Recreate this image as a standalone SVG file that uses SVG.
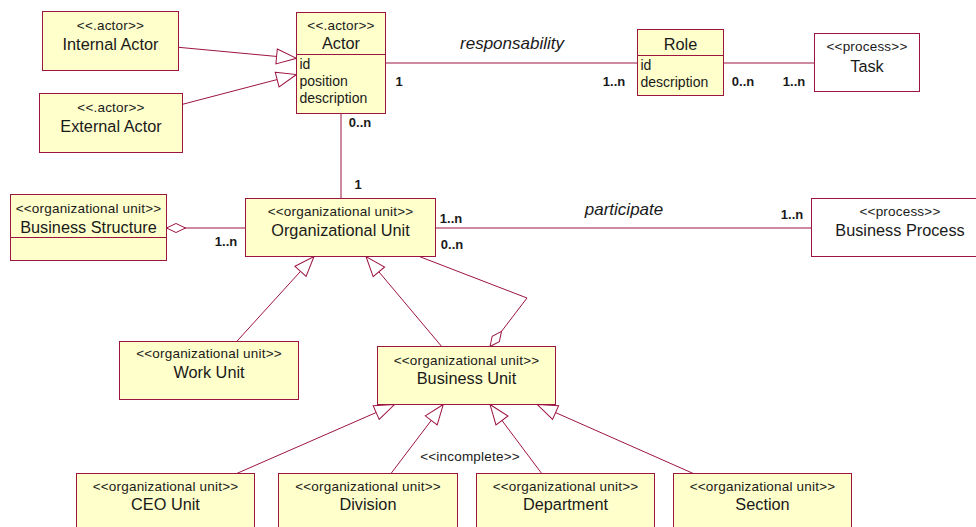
<svg xmlns="http://www.w3.org/2000/svg" width="976" height="527" viewBox="0 0 976 527">
<defs>
<style>
.box{fill:#ffffcc;stroke:#9c1440;stroke-width:1}
.pbox{fill:#ffffff;stroke:#9c1440;stroke-width:1}
.div{stroke:#9c1440;stroke-width:1}
.con{fill:none;stroke:#9c1440;stroke-width:1}
text{font-family:"Liberation Sans",Arial,sans-serif;fill:#1a1a1a}
.st{font-size:13.5px;letter-spacing:0.2px;text-anchor:middle}
.nm{font-size:16.3px;text-anchor:middle}
.at{font-size:14px}
.mu{font-size:13px;font-weight:bold;text-anchor:middle}
.lb{font-size:17px;font-style:italic;text-anchor:middle}
</style>
<marker id="gen" markerUnits="userSpaceOnUse" markerWidth="22" markerHeight="17" refX="20" refY="7.5" orient="auto" overflow="visible">
<path d="M0,0 L20,7.5 L0,15 Z" fill="#ffffff" stroke="#9c1440" stroke-width="1"/>
</marker>
<marker id="agg" markerUnits="userSpaceOnUse" markerWidth="20" markerHeight="10" refX="19" refY="4.5" orient="auto" overflow="visible">
<path d="M0,4.5 L9.5,0 L19,4.5 L9.5,9 Z" fill="#ffffff" stroke="#9c1440" stroke-width="1"/>
</marker>
</defs>

<g id="connectors">
<path class="con" d="M178.5,47.3 L296.5,58.3" marker-end="url(#gen)"/>
<path class="con" d="M182.5,104.3 L296.5,74.5" marker-end="url(#gen)"/>
<path class="con" d="M385.5,63 L637.5,63"/>
<path class="con" d="M723.5,63 L814.5,63"/>
<path class="con" d="M341,113.5 L341,198.5"/>
<path class="con" d="M245.5,228 L166.5,228" marker-end="url(#agg)"/>
<path class="con" d="M435.5,228 L811.5,228"/>
<path class="con" d="M236.7,341.5 L314,256.5" marker-end="url(#gen)"/>
<path class="con" d="M441.7,346.5 L366,256.5" marker-end="url(#gen)"/>
<path class="con" d="M419.3,256.5 L527,298 L490,346.5" marker-end="url(#agg)"/>
<path class="con" d="M236.7,473.5 L394.5,404.5" marker-end="url(#gen)"/>
<path class="con" d="M391,473.5 L443.3,404.5" marker-end="url(#gen)"/>
<path class="con" d="M541.7,473.5 L490,404.5" marker-end="url(#gen)"/>
<path class="con" d="M693.3,473.5 L537.3,404.5" marker-end="url(#gen)"/>
<text class="lb" x="512" y="48.5">responsability</text>
<text class="mu" x="399" y="85.5">1</text>
<text class="mu" x="614" y="85.5">1..n</text>
<text class="mu" x="743" y="85.5">0..n</text>
<text class="mu" x="794" y="85.5">1..n</text>
<text class="mu" x="360" y="127">0..n</text>
<text class="mu" x="358" y="189">1</text>
<text class="mu" x="226" y="245.5">1..n</text>
<text class="mu" x="451" y="223">1..n</text>
<text class="mu" x="452" y="249">0..n</text>
<text class="lb" x="624" y="215">participate</text>
<text class="mu" x="792" y="219">1..n</text>
<text class="st" x="470" y="460.5">&lt;&lt;incomplete&gt;&gt;</text>
</g>

<g id="internal-actor">
<rect class="box" x="42.5" y="11.5" width="136" height="59"/>
<text class="st" x="110.5" y="30">&lt;&lt;.actor&gt;&gt;</text>
<text class="nm" x="110.5" y="49.5">Internal Actor</text>
</g>

<g id="external-actor">
<rect class="box" x="39.5" y="93.5" width="143" height="59"/>
<text class="st" x="111" y="112">&lt;&lt;.actor&gt;&gt;</text>
<text class="nm" x="111" y="131.5">External Actor</text>
</g>

<g id="actor">
<rect class="box" x="296.5" y="12.5" width="89" height="101"/>
<line class="div" x1="296.5" y1="54.5" x2="385.5" y2="54.5"/>
<text class="st" x="341" y="30">&lt;&lt;.actor&gt;&gt;</text>
<text class="nm" x="341" y="49">Actor</text>
<text class="at" x="299.5" y="68.5">id</text>
<text class="at" x="299.5" y="85.5">position</text>
<text class="at" x="299.5" y="102.5">description</text>
</g>

<g id="role">
<rect class="box" x="637.5" y="29.5" width="86" height="66"/>
<line class="div" x1="637.5" y1="55.5" x2="723.5" y2="55.5"/>
<text class="nm" x="680.5" y="50">Role</text>
<text class="at" x="640.5" y="70">id</text>
<text class="at" x="640.5" y="87">description</text>
</g>

<g id="task">
<rect class="pbox" x="814.5" y="33.5" width="105" height="58"/>
<text class="st" x="867" y="51">&lt;&lt;process&gt;&gt;</text>
<text class="nm" x="867" y="71.5">Task</text>
</g>

<g id="business-structure">
<rect class="box" x="10.5" y="194.5" width="156" height="66"/>
<line class="div" x1="10.5" y1="237.5" x2="166.5" y2="237.5"/>
<text class="st" x="88.5" y="212.5">&lt;&lt;organizational unit&gt;&gt;</text>
<text class="nm" x="88.5" y="232.5">Business Structure</text>
</g>

<g id="organizational-unit">
<rect class="box" x="245.5" y="198.5" width="190" height="58"/>
<text class="st" x="340.5" y="215.5">&lt;&lt;organizational unit&gt;&gt;</text>
<text class="nm" x="340.5" y="236">Organizational Unit</text>
</g>

<g id="business-process">
<rect class="pbox" x="811.5" y="198.5" width="178" height="58"/>
<text class="st" x="900" y="216">&lt;&lt;process&gt;&gt;</text>
<text class="nm" x="900" y="236">Business Process</text>
</g>

<g id="work-unit">
<rect class="box" x="119.5" y="341.5" width="179" height="58"/>
<text class="st" x="209" y="358">&lt;&lt;organizational unit&gt;&gt;</text>
<text class="nm" x="209" y="378">Work Unit</text>
</g>

<g id="business-unit">
<rect class="box" x="377.5" y="346.5" width="178" height="58"/>
<text class="st" x="466.5" y="365">&lt;&lt;organizational unit&gt;&gt;</text>
<text class="nm" x="466.5" y="384">Business Unit</text>
</g>

<g id="ceo-unit">
<rect class="box" x="76.5" y="473.5" width="178" height="60"/>
<text class="st" x="165.5" y="490.5">&lt;&lt;organizational unit&gt;&gt;</text>
<text class="nm" x="165.5" y="510">CEO Unit</text>
</g>

<g id="division">
<rect class="box" x="278.5" y="473.5" width="179" height="60"/>
<text class="st" x="368" y="490.5">&lt;&lt;organizational unit&gt;&gt;</text>
<text class="nm" x="368" y="510">Division</text>
</g>

<g id="department">
<rect class="box" x="476.5" y="473.5" width="178" height="60"/>
<text class="st" x="565.5" y="490.5">&lt;&lt;organizational unit&gt;&gt;</text>
<text class="nm" x="565.5" y="510">Department</text>
</g>

<g id="section">
<rect class="box" x="673.5" y="473.5" width="178" height="60"/>
<text class="st" x="762.5" y="490.5">&lt;&lt;organizational unit&gt;&gt;</text>
<text class="nm" x="762.5" y="510">Section</text>
</g>
</svg>
